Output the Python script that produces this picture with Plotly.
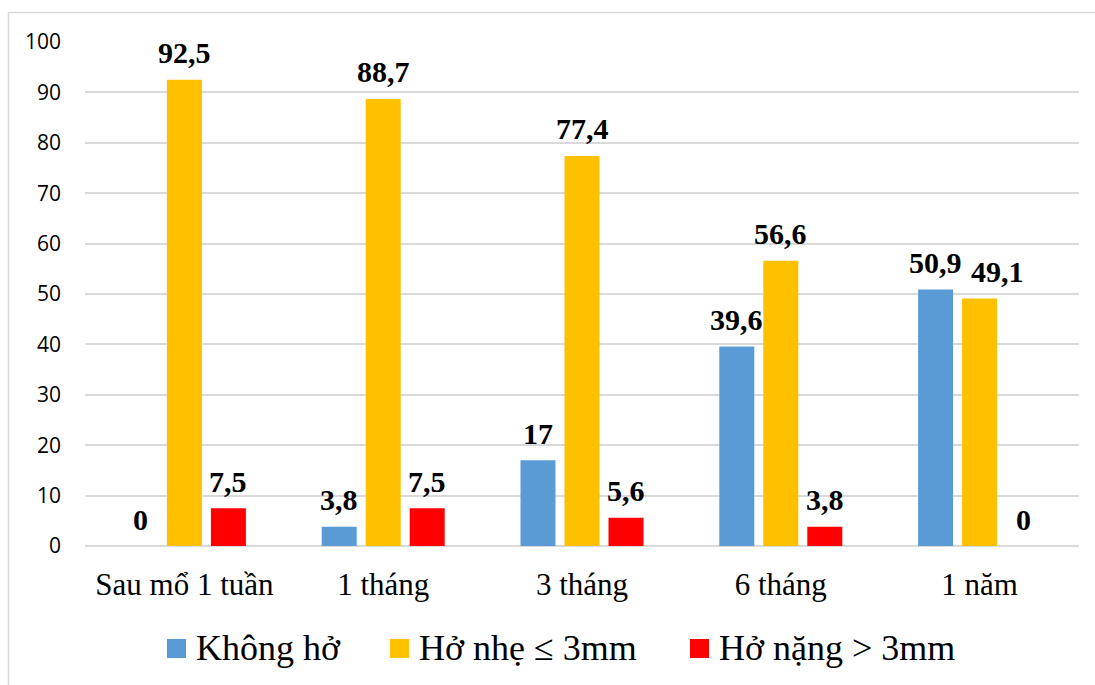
import plotly.graph_objects as go

# Healing follow-up: share of wounds by gap size at each check-up (%)
categories = ["Sau mổ 1 tuần", "1 tháng", "3 tháng", "6 tháng", "1 năm"]
series_names = ["Không hở", "Hở nhẹ ≤ 3mm", "Hở nặng > 3mm"]
khong_ho = [0, 3.8, 17, 39.6, 50.9]
ho_nhe = [92.5, 88.7, 77.4, 56.6, 49.1]
ho_nang = [7.5, 7.5, 5.6, 3.8, 0]
y_ticks = [0, 10, 20, 30, 40, 50, 60, 70, 80, 90, 100]

series_values = [khong_ho, ho_nhe, ho_nang]
colors = ["#5B9BD5", "#FFC000", "#FF0000"]

W, H = 1095, 685
M_L, M_R, M_T, M_B = 85, 16, 42, 139
PLOT_W = W - M_L - M_R
PLOT_H = H - M_T - M_B


def px_x(p):
    return (p - M_L) / PLOT_W


def px_y(p):
    return (H - M_B - p) / PLOT_H


def fmt(v):
    return str(int(v)) if float(v).is_integer() else str(v).replace(".", ",")


fig = go.Figure()
for name, vals, col in zip(series_names, series_values, colors):
    fig.add_trace(go.Bar(
        x=categories, y=vals, name=name,
        marker=dict(color=col, line=dict(width=0)),
        showlegend=False,
    ))

# value labels above each bar; one label nudged right so neighbours don't collide
slot = 44
nudge = {(1, 4): 18}
annotations = []
for i, vals in enumerate(series_values):
    for j, (c, v) in enumerate(zip(categories, vals)):
        annotations.append(dict(
            x=c, y=v, xref="x", yref="y", text=fmt(v),
            showarrow=False, xanchor="center", yanchor="middle",
            xshift=(i - 1) * slot + nudge.get((i, j), 0), yshift=27,
            font=dict(family="Liberation Serif", size=30, color="#000000",
                      weight="bold"),
        ))

# legend row along the bottom
legend_sq = [167, 390, 690]
shapes = []
for name, col, sx in zip(series_names, colors, legend_sq):
    shapes.append(dict(
        type="rect", xref="paper", yref="paper",
        x0=px_x(sx), x1=px_x(sx + 19), y0=px_y(658), y1=px_y(639),
        fillcolor=col, line=dict(width=0),
    ))
    annotations.append(dict(
        x=px_x(sx + 27), y=px_y(648), xref="paper", yref="paper",
        text=name, showarrow=False, xanchor="left", yanchor="middle",
        font=dict(family="Liberation Serif", size=36, color="#000000"),
    ))

# chart frame
shapes.append(dict(
    type="rect", xref="paper", yref="paper",
    x0=px_x(8.5), x1=px_x(W + 20), y0=px_y(H + 20), y1=px_y(12.5),
    line=dict(color="#d9d9d9", width=1.5), fillcolor="rgba(0,0,0,0)",
    layer="below",
))

fig.update_layout(
    width=W, height=H,
    margin=dict(l=M_L, r=M_R, t=M_T, b=M_B, pad=0),
    paper_bgcolor="white", plot_bgcolor="white",
    barmode="group", bargap=0.336, bargroupgap=0.2045,
    annotations=annotations, shapes=shapes,
    xaxis=dict(
        showgrid=False, showline=False, zeroline=False, ticks="",
        tickfont=dict(family="Liberation Serif", size=31, color="#000000"),
        ticklabelstandoff=17,
    ),
    yaxis=dict(
        range=[0, 100], tickvals=y_ticks,
        showgrid=True, gridcolor="#d9d9d9", gridwidth=1.5,
        zeroline=True, zerolinecolor="#d9d9d9", zerolinewidth=1.5,
        showline=False, ticks="",
        tickfont=dict(family="Open Sans", size=21, color="#000000"),
        ticklabelstandoff=23,
    ),
)

fig.write_html("out.html")
